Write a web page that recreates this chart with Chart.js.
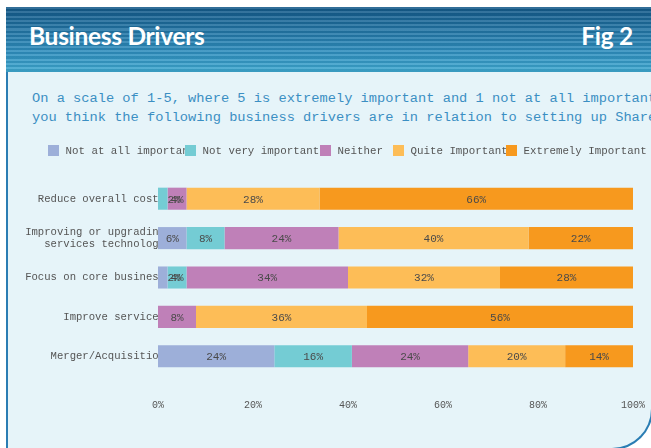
<!DOCTYPE html>
<html>
<head>
<meta charset="utf-8">
<script src="https://cdn.jsdelivr.net/npm/chart.js@4.4.1/dist/chart.umd.min.js"></script>
<style>
  body { margin: 0; width: 651px; height: 448px; overflow: hidden; background: #fff; position: relative; }
  #header {
    position: absolute; left: 6px; top: 7px; width: 660px; height: 65px;
    background:
      repeating-linear-gradient(to bottom, rgba(255,255,255,0.13) 0px, rgba(255,255,255,0.13) 2px, rgba(0,0,0,0.07) 2px, rgba(0,0,0,0.07) 4.3px),
      linear-gradient(to bottom, #135888, #2f8fbf 70%, #3ea8d0);
  }
  #panel {
    position: absolute; left: 6px; top: 72px; width: 647px; height: 378px; box-sizing: border-box;
    background: #e6f4f9;
    border-left: 2px solid #2a7db3; border-right: 2px solid #2a7db3; border-bottom: 2px solid #2a7db3;
    border-bottom-right-radius: 41px;
  }
  .head { position: absolute; top: 23px; color: #fff; font: bold 24.5px Lato, sans-serif; line-height: 25px; letter-spacing: -0.3px; }
  #title { left: 29px; }
  #fig { right: 18px; }
  #question {
    position: absolute; left: 32px; top: 89px; white-space: nowrap;
    font: 13.7px "Liberation Mono", monospace; line-height: 19px; color: #3b8fc3;
  }
  #chart { position: absolute; left: 0; top: 0; }
</style>
</head>
<body>
<div id="header"></div>
<div id="panel"></div>
<div id="title" class="head">Business Drivers</div>
<div id="fig" class="head">Fig 2</div>
<div id="question">On a scale of 1-5, where 5 is extremely important and 1 not at all important, how important do<br>you think the following business drivers are in relation to setting up Shared Services?</div>
<canvas id="chart" width="651" height="448"></canvas>
<script>
'use strict'

//drivers
let drivers = [
  'Reduce overall costs',
  ['Improving or upgrading', 'services technology'],
  'Focus on core business',
  'Improve services',
  'Merger/Acquisition'
];

//answer names
let answers = ['Not at all important', 'Not very important', 'Neither', 'Quite Important', 'Extremely Important'];
let colors = ['#9dafd9', '#74ccd4', '#bf80b8', '#fdbd57', '#f7991e'];

//% of replies
let notAtAll = [0, 6, 2, 0, 24];
let notVery = [2, 8, 4, 0, 16];
let neither = [4, 24, 34, 8, 24];
let quite = [28, 40, 32, 36, 20];
let extremely = [66, 22, 28, 56, 14];

let xTicks = [0, 20, 40, 60, 80, 100];

let series = [notAtAll, notVery, neither, quite, extremely];

//each bar is stacked to 100%
let totals = drivers.map((d, i) => series.reduce((sum, s) => sum + s[i], 0));

let datasets = series.map((s, k) => ({
  label: answers[k],
  data: s.map((v, i) => v / totals[i] * 100),
  raw: s,
  backgroundColor: colors[k],
  borderWidth: 0,
  categoryPercentage: 1,
  barPercentage: 0.56
}));

let mono = '"Liberation Mono", monospace';

//legend row
let legendX = [48, 185, 320, 393, 506];
let legendRow = {
  id: 'legendRow',
  afterDraw(chart){
    let c = chart.ctx;
    c.save();
    c.font = '10.8px ' + mono;
    c.textBaseline = 'middle';
    c.textAlign = 'left';
    for(let i = 0; i < answers.length; i++){
      c.fillStyle = colors[i];
      c.fillRect(legendX[i], 145, 11, 11);
      c.fillStyle = '#555';
      c.fillText(answers[i], legendX[i] + 17.5, 151);
    }
    c.restore();
  }
};

//% labels on the segments
let barLabels = {
  id: 'barLabels',
  afterDatasetsDraw(chart){
    let c = chart.ctx;
    c.save();
    c.font = '11px ' + mono;
    c.fillStyle = '#4a4a4a';
    c.textAlign = 'center';
    c.textBaseline = 'middle';
    chart.data.datasets.forEach((ds, k) => {
      chart.getDatasetMeta(k).data.forEach((bar, i) => {
        let v = ds.raw[i];
        if(!v) return;
        let text = v + '%';
        let w = c.measureText(text).width;
        let left = Math.min(bar.x, bar.base);
        let right = Math.max(bar.x, bar.base);
        let x = (left + right) / 2;
        //too narrow: put it just past the segment
        if(right - left < w) x = right + w / 2;
        c.fillText(text, x, bar.y + 1);
      });
    });
    c.restore();
  }
};

new Chart(document.getElementById('chart'), {
  type: 'bar',
  data: { labels: drivers, datasets: datasets },
  options: {
    indexAxis: 'y',
    responsive: false,
    animation: false,
    devicePixelRatio: 1,
    layout: { padding: { left: 0, right: 18, top: 179, bottom: 0 } },
    plugins: { legend: { display: false }, tooltip: { enabled: false } },
    scales: {
      x: {
        stacked: true,
        min: 0,
        max: 100,
        afterFit(scale){
          scale.height = 72;
          scale.paddingLeft = 0;
          scale.paddingRight = 0;
        },
        afterBuildTicks(scale){ scale.ticks = xTicks.map(v => ({ value: v })); },
        grid: { display: false, drawTicks: false },
        border: { display: false },
        ticks: {
          padding: 23,
          maxRotation: 0,
          color: '#555',
          font: { family: mono, size: 10 },
          callback: v => v + '%'
        }
      },
      y: {
        stacked: true,
        afterFit(scale){
          scale.width = 158;
          scale.paddingTop = 0;
          scale.paddingBottom = 0;
        },
        grid: { display: false, drawTicks: false },
        border: { display: false },
        ticks: {
          padding: -7,
          color: '#555',
          font: { family: mono, size: 10.6, lineHeight: 1.2 }
        }
      }
    }
  },
  plugins: [legendRow, barLabels]
});
</script>
</body>
</html>
